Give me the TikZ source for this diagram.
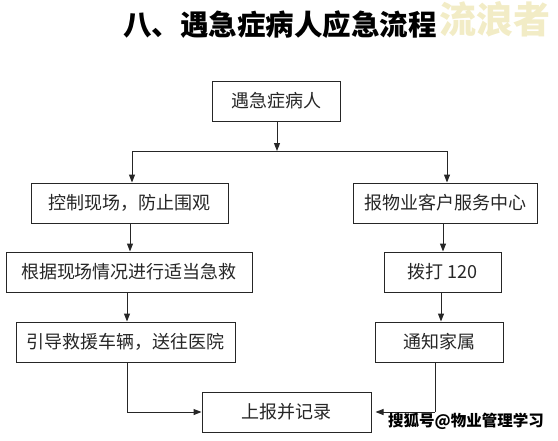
\documentclass[tikz,border=0pt]{standalone}
\usepackage{fontspec}
\newfontfamily\cjk{Noto Sans CJK SC}
\usetikzlibrary{arrows.meta}
\definecolor{wmyellow}{HTML}{F2ECC6}
\tikzset{
  box/.style={draw=black!85, line width=1pt, minimum height=40pt, inner sep=0pt, font=\cjk\fontsize{18}{19}\selectfont, text=black!85},
  conn/.style={draw=black!85, line width=1pt},
  arr/.style={conn, -{Triangle[length=8pt,width=6pt]}}
}
\begin{document}
\begin{tikzpicture}[x=1pt,y=-1pt]
\useasboundingbox (0,0) rectangle (558,440);
\node[font=\cjk\bfseries\fontsize{28.5}{29}\selectfont, inner sep=0pt] (title) at (280,25) {八、遇急症病人应急流程};
\node[font=\cjk\bfseries\fontsize{37}{38}\selectfont, text=wmyellow, inner sep=0pt] (wm1) at (495,19) {流浪者};

\node[box, minimum width=128pt] (a) at (276,101) {遇急症病人};
\node[box, minimum width=197pt] (b) at (129.5,203) {控制现场，防止围观};
\node[box, minimum width=184pt] (c) at (445,203) {报物业客户服务中心};
\node[box, minimum width=246pt] (d) at (129,272) {根据现场情况进行适当急救};
\node[box, minimum width=117pt] (e) at (442.5,272) {拨打 120};
\node[box, minimum width=219pt] (f) at (125.5,342) {引导救援车辆，送往医院};
\node[box, minimum width=128pt] (g) at (439,342) {通知家属};
\node[box, minimum width=169pt] (h) at (286.5,412) {上报并记录};

\coordinate (j) at (277,151);
\coordinate (jl) at (132,151);
\coordinate (jr) at (447,151);
\draw[arr] (a.south -| j) -- (j);
\draw[conn] (jl) -- (jr);
\draw[arr] (jl) -- (jl |- b.north);
\draw[arr] (jr) -- (jr |- c.north);
\draw[arr] (b.south -| 130,0) -- (d.north -| 130,0);
\draw[arr] (c.south -| 443,0) -- (e.north -| 443,0);
\draw[arr] (d.south -| 127,0) -- (f.north -| 127,0);
\draw[arr] (e.south -| 441,0) -- (g.north -| 441,0);
\coordinate (ll) at (127,412);
\coordinate (rr) at (435,412);
\draw[conn] (f.south -| ll) -- (ll);
\draw[arr] (ll) -- (h.west);
\draw[conn] (g.south -| rr) -- (rr);
\draw[arr] (rr) -- ([xshift=4pt]h.east);

\node[font=\cjk\bfseries\fontsize{15.5}{16}\selectfont, inner sep=0pt] (wm2) at (466,421) {搜狐号@物业管理学习};
\end{tikzpicture}
\end{document}
